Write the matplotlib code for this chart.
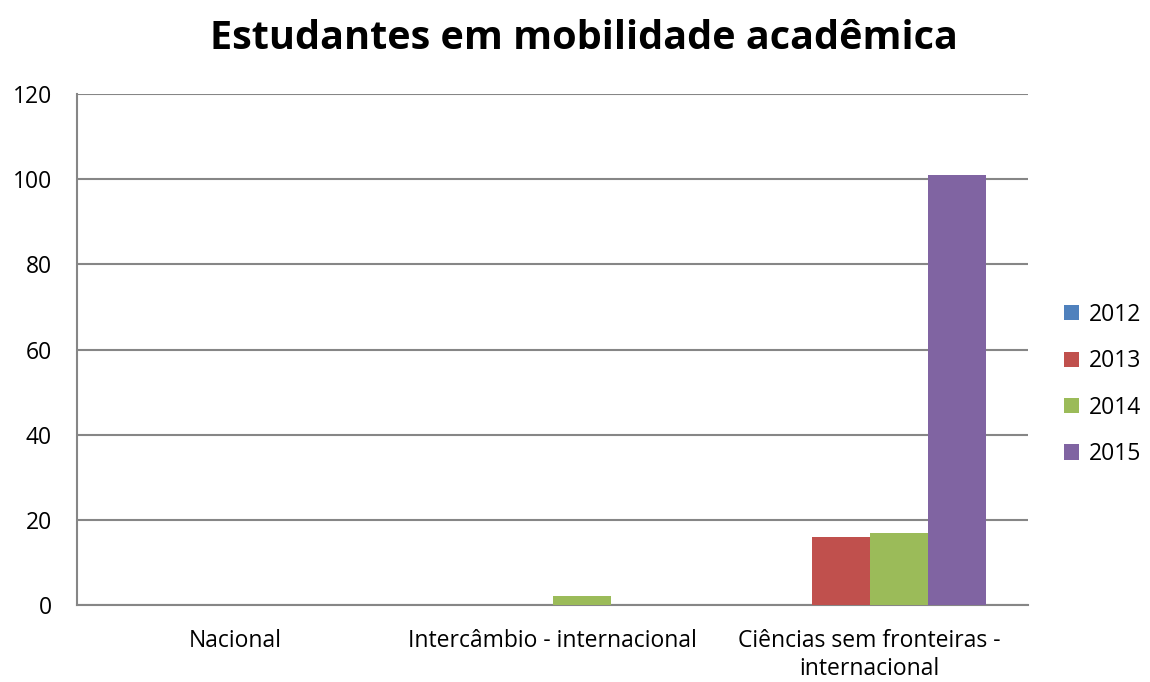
import numpy as np
from matplotlib import pyplot as plt

plt.rcParams['font.family'] = ['Open Sans', 'DejaVu Sans']

categorias = ['Nacional', 'Intercâmbio - internacional', 'Ciências sem fronteiras -\ninternacional']
anos = ['2012', '2013', '2014', '2015']
v2012 = [0, 0, 0]
v2013 = [0, 0, 16]
v2014 = [0, 2, 17]
v2015 = [0, 0, 101]
cores = ['#4F81BD', '#C0504D', '#9BBB59', '#8064A2']

fig = plt.figure(figsize=(11.5, 6.82), dpi=100)
ax = fig.add_axes([0.067, 0.1129, 0.827, 0.749])

x = np.arange(len(categorias))
w = 0.183
series = [v2012, v2013, v2014, v2015]
for i in range(len(series)):
    ax.bar(x + (i - 1.5) * w, series[i], w, color=cores[i], label=anos[i], zorder=3)

ax.set_xlim(-0.5, 2.5)
ax.set_ylim(0, 120)
ax.set_yticks(range(0, 121, 20))
ax.yaxis.grid(True, color='#868686', linewidth=1.5, zorder=0)
ax.set_xticks(x)
ax.set_xticklabels(categorias, fontsize=16.5, linespacing=1.25)
ax.tick_params(axis='y', labelsize=16.5, length=0, pad=18)
ax.tick_params(axis='x', length=0, pad=17)
for s in ['top', 'right']:
    ax.spines[s].set_visible(False)
for s in ['left', 'bottom']:
    ax.spines[s].set_color('#868686')
    ax.spines[s].set_linewidth(1.5)

fig.text(0.508, 0.944, 'Estudantes em mobilidade acadêmica', fontsize=28.5, fontweight='bold',
         ha='center', va='center')
ax.legend(loc='center left', bbox_to_anchor=(0.925, (682 - 384.5) / 682),
          bbox_transform=fig.transFigure, frameon=False, fontsize=16.5,
          handlelength=0.65, handleheight=0.65, labelspacing=0.98, handletextpad=0.45,
          borderpad=0, borderaxespad=0)

plt.savefig('out.png', dpi=100)
